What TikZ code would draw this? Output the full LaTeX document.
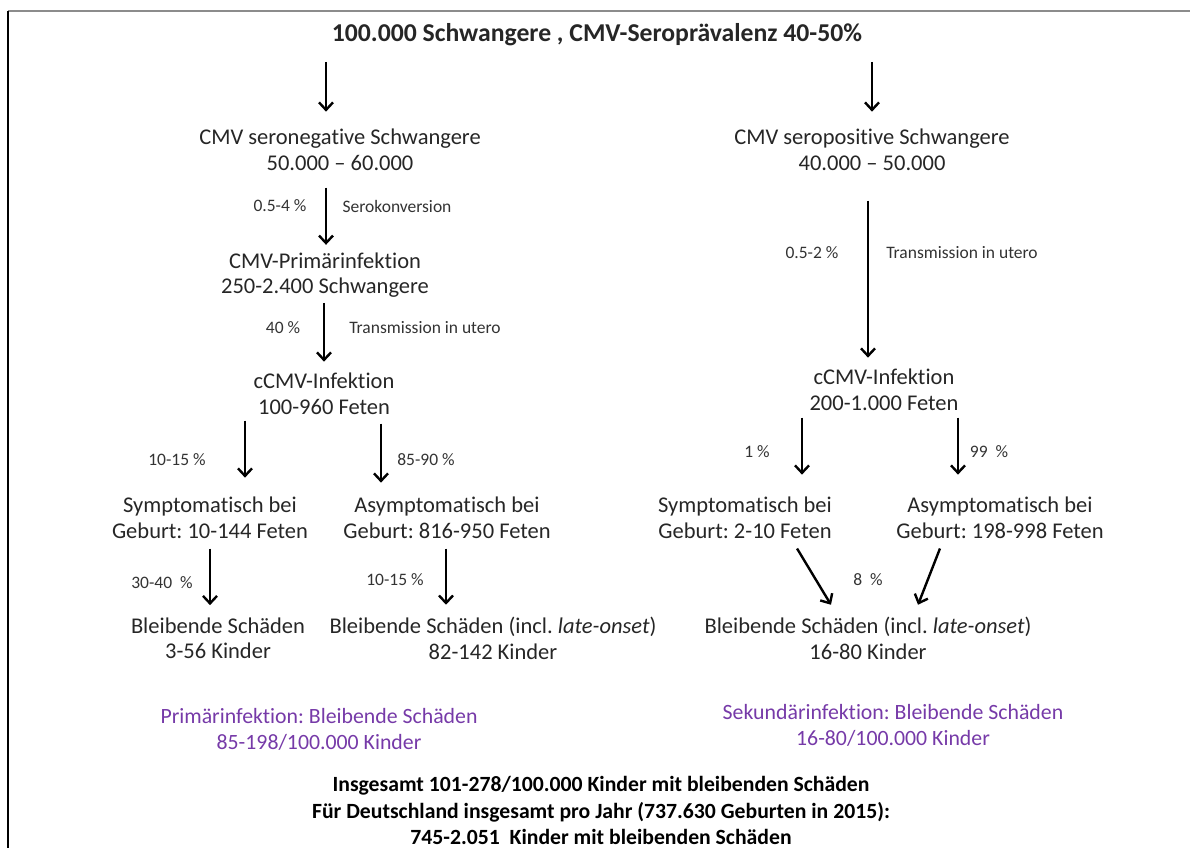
\documentclass[tikz,border=0pt]{standalone}
\usepackage{fontspec}
\setmainfont{Carlito}[Ligatures=NoCommon]
\usetikzlibrary{arrows.meta,positioning}
\definecolor{sumviolet}{RGB}{118,58,168}
\frenchspacing
\begin{document}
\begin{tikzpicture}[x=1pt,y=-1pt]

% Define block styles
\tikzstyle{stage} = [align=center, inner sep=0pt, text=black!85, font=\fontsize{22.5}{25.5}\selectfont]
\tikzstyle{rate} = [inner sep=0pt, text=black!80, font=\fontsize{17.5}{20}\selectfont]
\tikzstyle{result} = [stage, text=sumviolet, font=\fontsize{21.8}{26}\selectfont]
\tikzstyle{total} = [stage, text=black, font=\bfseries\fontsize{21.7}{26.3}\selectfont]
\tikzstyle{arrow} = [line width=2.4pt, -{Straight Barb[length=7.5pt,width=14pt]}]

\useasboundingbox (0,0) rectangle (1190,848);

% Frame
\draw [black!45, line width=1.6pt] (8,11) -- (1190,11);
\draw [black, line width=1.6pt] (8,11) -- (8,848);

% Define nodes
\node (all) [stage, font=\bfseries\fontsize{25.7}{28}\selectfont] at (597,34.5) {100.000 Schwangere , CMV-Seroprävalenz 40-50\%};

\node (neg) [stage] at (340,150) {CMV seronegative Schwangere\\50.000 – 60.000};
\node (pos) [stage] at (872,150) {CMV seropositive Schwangere\\40.000 – 50.000};
\node (prim) [stage] at (325,275) {CMV-Primärinfektion\\250-2.400 Schwangere};
\node (inf1) [stage] at (324,394) {cCMV-Infektion\\100-960 Feten};
\node (inf2) [stage] at (884,390) {cCMV-Infektion\\200-1.000 Feten};

\node (sym1) [stage] at (210,518) {Symptomatisch bei\\Geburt: 10-144 Feten};
\node (asym1) [stage] at (447,518) {Asymptomatisch bei\\Geburt: 816-950 Feten};
\node (sym2) [stage] at (745,518) {Symptomatisch bei\\Geburt: 2-10 Feten};
\node (asym2) [stage] at (1000,518) {Asymptomatisch bei\\Geburt: 198-998 Feten};

\node (dam1) [stage] at (218,638.5) {Bleibende Schäden\\3-56 Kinder};
\node (dam2) [stage] at (493,638.5) {Bleibende Schäden (incl. \textit{late-onset})\\82-142 Kinder};
\node (dam3) [stage] at (868,638.5) {Bleibende Schäden (incl. \textit{late-onset})\\16-80 Kinder};

\node (primsum) [result] at (319,729) {Primärinfektion: Bleibende Schäden\\85-198/100.000 Kinder};
\node (secsum) [result] at (893,725) {Sekundärinfektion: Bleibende Schäden\\16-80/100.000 Kinder};

\node (germany) [total] at (601,810.5) {Insgesamt 101-278/100.000 Kinder mit bleibenden Schäden\\Für Deutschland insgesamt pro Jahr (737.630 Geburten in 2015):\\745-2.051\ \ Kinder mit bleibenden Schäden};

% Rates
\node (r1) [rate] at (280,206) {0.5-4 \%};
\node (t1) [rate] at (397,206) {Serokonversion};
\node (r2) [rate] at (283,328) {40 \%};
\node (t2) [rate] at (425,328) {Transmission in utero};
\node (r3) [rate] at (812,253) {0.5-2 \%};
\node (t3) [rate] at (962,253) {Transmission in utero};
\node (r4) [rate] at (177,460) {10-15 \%};
\node (r5) [rate] at (426,460) {85-90 \%};
\node (r6) [rate] at (757,452) {1 \%};
\node (r7) [rate] at (989,452) {99\ \ \%};
\node (r8) [rate] at (162,583) {30-40\ \ \%};
\node (r9) [rate] at (395,580) {10-15 \%};
\node (r10) [rate] at (868,580) {8\ \ \%};

\coordinate (negin) at ([xshift=-14pt]neg.north);
\coordinate (negout) at ([xshift=-14pt]neg.south);

% Draw arrows
\draw [arrow, shorten <=16pt, shorten >=17.5pt] (all.south -| negin) -- (negin);
\draw [arrow, shorten <=16pt, shorten >=17.5pt] (all.south -| pos.north) -- (pos.north);
\draw [arrow, shorten <=16.7pt, shorten >=7.5pt] (negout) -- (negout |- prim.north);
\draw [arrow, shorten <=5.2pt, shorten >=11.5pt] ([xshift=-1pt]prim.south) -- ([xshift=-1pt]prim.south |- inf1.north);
\draw [arrow, shorten <=29.7pt, shorten >=11.5pt] ([xshift=-4pt]pos.south) -- ([xshift=-4pt]pos.south |- inf2.north);

\draw [arrow, shorten <=5.7pt, shorten >=19.5pt] ([xshift=-79pt]inf1.south) -- ([xshift=35pt]sym1.north);
\draw [arrow, shorten <=8.7pt, shorten >=14.5pt] ([xshift=57pt]inf1.south) -- ([xshift=-66pt]asym1.north);
\draw [arrow, shorten <=6.7pt, shorten >=22.5pt] ([xshift=-82pt]inf2.south) -- ([xshift=57pt]sym2.north);
\draw [arrow, shorten <=6.7pt, shorten >=22.5pt] ([xshift=74pt]inf2.south) -- ([xshift=-42pt]asym2.north);

\draw [arrow, shorten <=9.7pt, shorten >=12.5pt] (sym1.south) -- (sym1.south |- dam1.north);
\draw [arrow, shorten <=9.7pt, shorten >=12.5pt] ([xshift=-1pt]asym1.south) -- ([xshift=-1pt]asym1.south |- dam2.north);
\draw [arrow, shorten <=14.8pt, shorten >=11.1pt] ([xshift=44.4pt,yshift=3pt]sym2.south) -- ([xshift=-31.3pt,yshift=3pt]dam3.north);
\draw [arrow, shorten <=13.6pt, shorten >=10.2pt] ([xshift=-55.1pt,yshift=3pt]asym2.south) -- ([xshift=46.3pt,yshift=3pt]dam3.north);

\end{tikzpicture}
\end{document}
